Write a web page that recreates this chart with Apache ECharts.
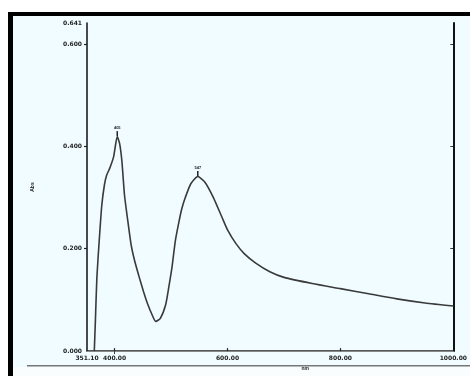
<!DOCTYPE html>
<html>
<head>
<meta charset="utf-8">
<script src="https://cdn.jsdelivr.net/npm/echarts@6/dist/echarts.min.js"></script>
<style>
	html, body { margin: 0; padding: 0; background: #fff; }
	#chart { width: 470px; height: 376px; }
</style>
</head>
<body>
<div id="chart"></div>
<script>
	// spectrum (nm, Abs)
	var wavelength = [364, 366, 368.6, 373, 377.3, 382, 386, 391.3, 398.3, 404.7, 409, 413, 417.5, 422.7, 429.2, 434.9, 443.7, 451, 458.2, 466, 472.8, 481, 490.3, 496, 501.8, 507.5, 513.5, 519, 525.2, 535, 547.3, 560, 575, 590, 600, 615, 630, 650, 675, 700, 750, 800, 850, 900, 950, 1000];
	var absorbance = [0, 0.06, 0.144, 0.22, 0.285, 0.325, 0.344, 0.357, 0.38, 0.419, 0.405, 0.37, 0.305, 0.26, 0.208, 0.179, 0.144, 0.117, 0.093, 0.072, 0.058, 0.064, 0.09, 0.125, 0.165, 0.215, 0.25, 0.278, 0.3, 0.327, 0.341, 0.33, 0.3, 0.262, 0.237, 0.21, 0.19, 0.172, 0.155, 0.144, 0.132, 0.122, 0.112, 0.102, 0.094, 0.088];
	var peakIndex = [9, 30];
	var xTickLabels = [351.1, 400, 600, 800, 1000];
	var xTicks = [400, 600, 800];
	var yTickLabels = [0, 0.2, 0.4, 0.6, 0.641];
	var yTicks = [0.2, 0.4, 0.6];

	var chart = echarts.init(document.getElementById('chart'));

	var points = wavelength.map(function (w, i) { return [w, absorbance[i]]; });
	var peaks = peakIndex.map(function (i) {
		return {
			coord: [wavelength[i], absorbance[i]],
			value: Math.round(wavelength[i])
		};
	});

	var labelStyle = { fontSize: 6, fontWeight: 'bold', color: '#222', fontFamily: 'DejaVu Sans' };

	var option = {
		backgroundColor: '#f0fcff',
		animation: false,
		grid: { left: 87, right: 13, top: 23, bottom: 22 },
		graphic: [
			{ type: 'rect', shape: { x: 0, y: 0, width: 470, height: 12 }, style: { fill: '#fff' } },
			{ type: 'rect', shape: { x: 0, y: 0, width: 8, height: 376 }, style: { fill: '#fff' } },
			{ type: 'rect', shape: { x: 8, y: 12, width: 462, height: 4 }, style: { fill: '#000' } },
			{ type: 'rect', shape: { x: 8, y: 12, width: 5, height: 364 }, style: { fill: '#000' } },
			{ type: 'rect', shape: { x: 27, y: 365, width: 443, height: 1.5 }, style: { fill: '#777' } },
			{ type: 'rect', shape: { x: 13, y: 367, width: 457, height: 9 }, style: { fill: '#fafdfd' } }
		],
		xAxis: [{
			type: 'value',
			min: 351.1,
			max: 1000,
			name: 'nm',
			nameLocation: 'middle',
			nameGap: 12,
			nameTextStyle: { fontSize: 5, fontWeight: 'bold', color: '#222', padding: [0, 0, 0, 70] },
			axisLine: { lineStyle: { color: '#222', width: 1.5 } },
			axisTick: { inside: true, length: 3, customValues: xTicks, lineStyle: { color: '#222', width: 1.2 } },
			axisLabel: Object.assign({ customValues: xTickLabels, margin: 4, formatter: function (v) { return v.toFixed(2); } }, labelStyle),
			splitLine: { show: false }
		}, {
			type: 'value',
			position: 'top',
			min: 351.1,
			max: 1000,
			axisLine: { lineStyle: { color: '#888', width: 1 } },
			axisTick: { inside: true, length: 3, customValues: [400], lineStyle: { color: '#444' } },
			axisLabel: { show: false },
			splitLine: { show: false }
		}],
		yAxis: [{
			type: 'value',
			min: 0,
			max: 0.641,
			name: 'Abs',
			nameLocation: 'middle',
			nameGap: 52,
			nameRotate: 90,
			nameTextStyle: { fontSize: 5, fontWeight: 'bold', color: '#222' },
			axisLine: { lineStyle: { color: '#111', width: 1.5 } },
			axisTick: { length: 3, customValues: yTicks, lineStyle: { color: '#222', width: 1.2 } },
			axisLabel: Object.assign({ customValues: yTickLabels, margin: 5, formatter: function (v) { return v.toFixed(3); } }, labelStyle),
			splitLine: { show: false }
		}, {
			type: 'value',
			position: 'right',
			min: 0,
			max: 0.641,
			axisLine: { show: true, lineStyle: { color: '#111', width: 2 } },
			axisTick: { inside: true, length: 3, customValues: yTicks, lineStyle: { color: '#333' } },
			axisLabel: { show: false },
			splitLine: { show: false }
		}],
		series: [{
			type: 'line',
			data: points,
			smooth: 0.2,
			showSymbol: false,
			lineStyle: { color: '#3a3a3a', width: 1.6 },
			markPoint: {
				symbol: 'rect',
				symbolSize: [1.5, 5],
				symbolOffset: [0, -3],
				itemStyle: { color: '#222' },
				label: { show: true, position: 'top', distance: 1, fontSize: 4, fontWeight: 'bold', color: '#222' },
				data: peaks
			}
		}]
	};

	chart.setOption(option);
</script>
</body>
</html>
